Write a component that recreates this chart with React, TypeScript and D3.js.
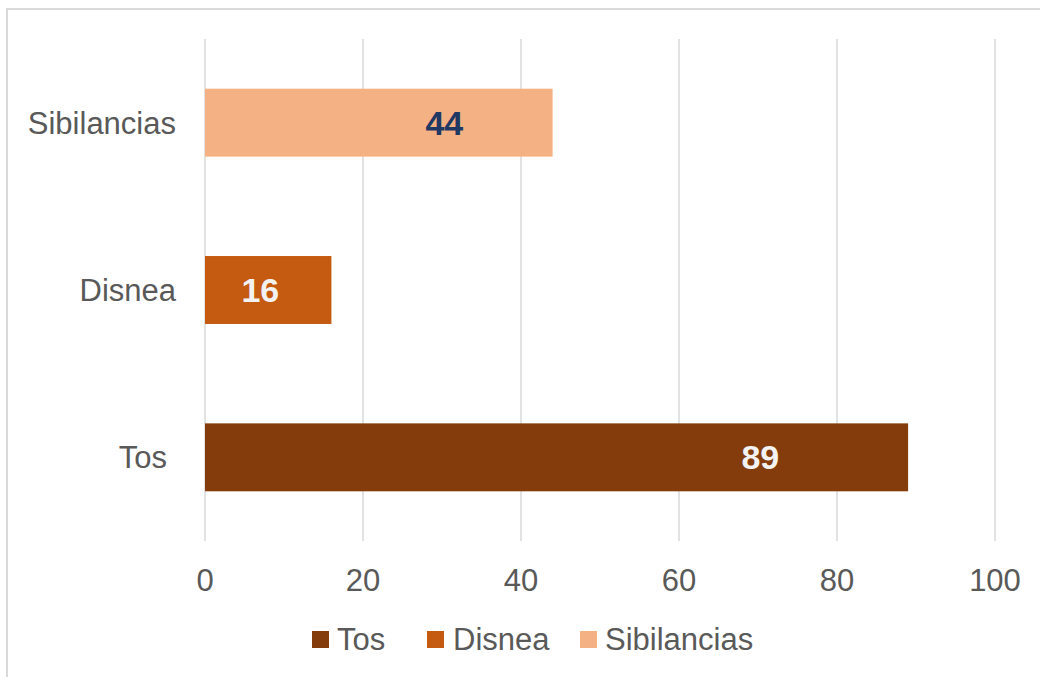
import React from "react";
import * as d3 from "d3";

const categories = ["Tos", "Disnea", "Sibilancias"];
const values = [89, 16, 44];
const colors = ["#843C0C", "#C55A11", "#F4B183"];
const labelColors = ["#F2F2F2", "#F2F2F2", "#1F3864"];
const xTicks = [0, 20, 40, 60, 80, 100];
// data label anchor (in axis units) as placed in the original chart
const labelAt = [70.3, 7.0, 30.3];

const W = 1040;
const H = 677;
const FONT = "'Liberation Sans', Arial, Helvetica, sans-serif";

export default function App() {
  const x = d3.scaleLinear().domain([0, 100]).range([205, 995]);
  const y = d3
    .scaleBand<string>()
    .domain([...categories].reverse())
    .range([39, 541])
    .paddingInner(0.594)
    .paddingOuter(0.297);

  const legendItems = [
    { name: categories[0], sx: 312, tx: 337 },
    { name: categories[1], sx: 427, tx: 453 },
    { name: categories[2], sx: 580, tx: 605 },
  ];

  return (
    <svg
      width={W}
      height={H}
      style={{ position: "absolute", left: 0, top: 0, background: "#fff" }}
      fontFamily={FONT}
    >
      <rect x={0} y={0} width={W} height={H} fill="#fff" />
      <rect x={7} y={9} width={1200} height={900} fill="none" stroke="#D9D9D9" strokeWidth={2} />
      {xTicks.map((t) => (
        <line key={"g" + t} x1={x(t)} x2={x(t)} y1={39} y2={541} stroke="#D9D9D9" strokeWidth={1.5} />
      ))}
      {categories.map((c, i) => (
        <rect
          key={"b" + c}
          x={x(0)}
          y={y(c)}
          width={x(values[i]) - x(0)}
          height={y.bandwidth()}
          fill={colors[i]}
        />
      ))}
      {categories.map((c, i) => (
        <text
          key={"l" + c}
          x={x(labelAt[i])}
          y={(y(c) as number) + y.bandwidth() / 2 + 12}
          textAnchor="middle"
          fontSize={34}
          fontWeight="bold"
          fill={labelColors[i]}
        >
          {values[i]}
        </text>
      ))}
      {categories.map((c, i) => (
        <text
          key={"c" + c}
          x={c === "Tos" ? 167 : 176}
          y={(y(c) as number) + y.bandwidth() / 2 + 11}
          textAnchor="end"
          fontSize={31}
          fill="#595959"
        >
          {c}
        </text>
      ))}
      {xTicks.map((t) => (
        <text key={"t" + t} x={x(t)} y={591} textAnchor="middle" fontSize={31} fill="#595959">
          {t}
        </text>
      ))}
      {legendItems.map((l, i) => (
        <g key={"lg" + l.name}>
          <rect x={l.sx} y={631} width={17} height={17} fill={colors[i]} />
          <text x={l.tx} y={650} fontSize={31} fill="#595959">
            {l.name}
          </text>
        </g>
      ))}
    </svg>
  );
}
